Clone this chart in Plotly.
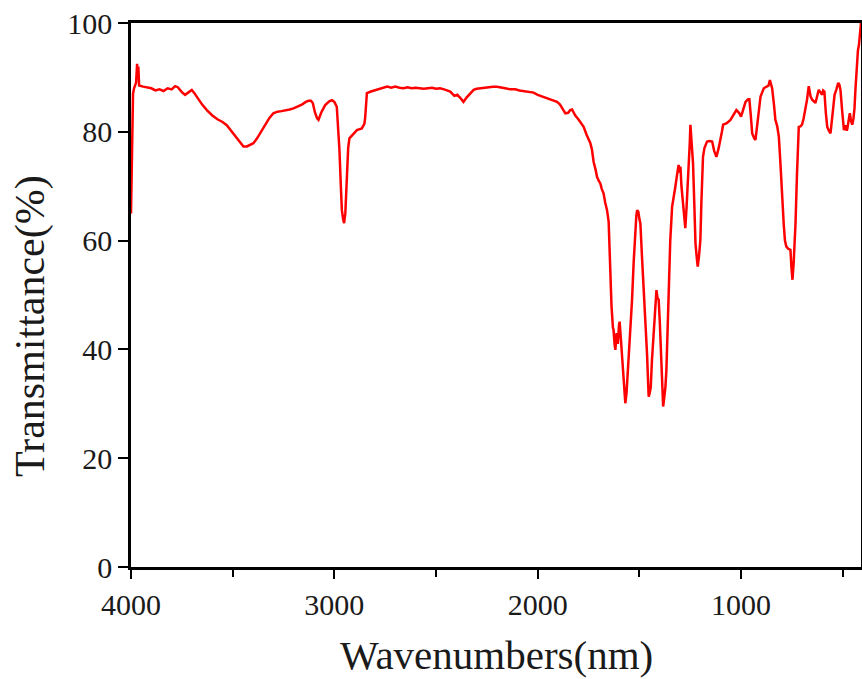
import plotly.graph_objects as go

wavenumber = [
    4000, 3997, 3995, 3993, 3990, 3985, 3975, 3970, 3967, 3964, 3960, 3940, 3920, 3900,
    3880, 3860, 3840, 3820, 3800, 3783, 3770, 3750, 3734, 3715, 3701, 3690, 3670, 3650,
    3627, 3600, 3575, 3550, 3529, 3510, 3490, 3470, 3447, 3430, 3410, 3398, 3380, 3360,
    3340, 3320, 3300, 3280, 3260, 3240, 3220, 3201, 3180, 3160, 3140, 3127, 3115, 3106,
    3095, 3085, 3078, 3065, 3045, 3025, 3012, 3000, 2988, 2980, 2975, 2968, 2963, 2957,
    2952, 2946, 2942, 2938, 2932, 2926, 2910, 2889, 2865, 2852, 2848, 2843, 2840, 2820,
    2800, 2780, 2758, 2740, 2720, 2700, 2680, 2660, 2640, 2620, 2600, 2580, 2560, 2540,
    2520, 2500, 2480, 2460, 2440, 2430, 2410, 2395, 2380, 2365, 2350, 2330, 2315, 2300,
    2280, 2260, 2240, 2220, 2200, 2180, 2160, 2135, 2110, 2090, 2070, 2050, 2020, 2000,
    1980, 1960, 1940, 1920, 1905, 1890, 1875, 1864, 1850, 1840, 1831, 1815, 1800, 1785,
    1774, 1760, 1750, 1741, 1733, 1725, 1715, 1708, 1700, 1692, 1685, 1676, 1668, 1659,
    1651, 1647, 1643, 1637, 1630, 1627, 1622, 1618, 1612, 1606, 1600, 1597, 1591, 1585,
    1578, 1572, 1569, 1563, 1558, 1553, 1545, 1536, 1528, 1520, 1515, 1511, 1505, 1500,
    1495, 1487, 1478, 1470, 1462, 1456, 1454, 1449, 1444, 1438, 1430, 1424, 1416, 1411,
    1405, 1400, 1397, 1392, 1387, 1383, 1378, 1372, 1367, 1362, 1356, 1348, 1339, 1330,
    1323, 1315, 1307, 1302, 1298, 1293, 1290, 1283, 1278, 1274, 1268, 1262, 1257, 1252,
    1249, 1246, 1240, 1236, 1230, 1224, 1218, 1213, 1207, 1200, 1195, 1187, 1180, 1167,
    1155, 1142, 1132, 1121, 1110, 1101, 1094, 1088, 1070, 1052, 1038, 1023, 1010, 1000,
    990, 978, 965, 959, 952, 945, 935, 929, 918, 910, 904, 888, 875, 865, 858, 847, 838,
    831, 822, 814, 806, 798, 790, 784, 777, 768, 757, 752, 747, 741, 736, 732, 725, 716,
    708, 700, 692, 683, 675, 667, 658, 650, 642, 634, 626, 618, 610, 601, 596, 590, 583,
    576, 568, 560, 552, 546, 540, 531, 522, 516, 511, 503, 494, 486, 480, 477, 471, 465,
    459, 453, 447, 442, 437, 432, 425, 420, 415, 410,
]

transmittance = [
    65, 72, 82, 78, 87, 88, 89, 92.5, 90, 92, 88.5, 88.3, 88.1, 88.0,
    87.6, 87.8, 87.5, 88.0, 87.8, 88.4, 88.2, 87.3, 86.8, 87.3, 87.7, 87.2, 86.0, 85.0,
    84.0, 83.0, 82.3, 81.8, 81.2, 80.3, 79.2, 78.3, 77.3, 77.3, 77.6, 77.9, 78.8, 80.0,
    81.3, 82.5, 83.4, 83.7, 83.8, 83.9, 84.1, 84.3, 84.6, 85.0, 85.5, 85.7, 85.7, 85.3,
    83.5, 82.5, 82.2, 83.5, 84.9, 85.6, 85.8, 85.5, 84.6, 80, 76.7, 70, 65.6, 64,
    63.2, 65, 69, 73.6, 77, 78.8, 79.5, 80.3, 80.6, 81.5, 82.8, 85, 87.1, 87.4,
    87.6, 87.8, 88.0, 88.3, 88.1, 88.3, 88.1, 88.0, 88.2, 88.0, 88.1, 88.0, 87.9, 88.0,
    88.1, 87.9, 88.0, 87.8, 87.6, 87.4, 86.6, 86.8, 86.2, 85.5, 86.3, 87.2, 87.7, 87.9,
    88.0, 88.2, 88.3, 88.3, 88.3, 88.2, 88.0, 87.8, 87.8, 87.6, 87.5, 87.4, 87.2, 86.8,
    86.5, 86.2, 85.9, 85.7, 85.5, 85.0, 84.0, 83.4, 83.5, 84.0, 84.1, 83.0, 82.3, 81.5,
    80.9, 79.5, 78.6, 77.9, 76.7, 74.5, 73, 71.7, 71.0, 70.5, 69.5, 68.7, 67, 65.6,
    63.5, 58, 53.4, 48, 44, 43.6, 41, 39.9, 43, 41, 44.5, 45.1, 42, 38.7,
    34, 30.5, 30.1, 32, 35, 37.5, 43, 49.1, 56, 62.6, 64.5, 65.6, 65.3, 64,
    63.2, 57, 51, 46, 39, 33, 31.3, 32, 33, 38, 42.3, 46, 50.9, 49.5,
    49.1, 45.5, 42.3, 36, 31, 29.5, 31, 33, 36.2, 43, 52.1, 60, 66.2, 68,
    69.9, 72, 73.9, 72.5, 73.6, 70, 68.7, 65, 63, 62.3, 66, 70, 72.5, 78,
    81.3, 80, 76.5, 74.2, 67, 59.5, 57, 55.2, 57, 60.1, 67, 75.4, 77, 78.2,
    78.3, 78.2, 76.5, 75.4, 77, 78.5, 80, 81.3, 81.6, 82.2, 83, 84, 83.5, 82.8,
    84, 85.5, 86, 86, 83, 79.7, 78.8, 78.5, 82, 85, 86.5, 88, 88.2, 88.5, 89.5, 88, 85,
    82.2, 81, 79.1, 74, 67.5, 63, 60, 58.9, 58.5, 58.3, 55, 52.8, 56, 60, 63.2, 72, 80.9,
    81, 81.3, 82.5, 84.3, 86, 88.4, 86.5, 85.9, 85.6, 85.3, 86.5, 87.7, 87.3, 86.8, 87.6, 87.4, 83.5,
    80.9, 80.2, 79.7, 82.5, 85, 86.8, 87.8, 89, 88.6, 87.7, 84, 80.3, 81.2, 80.2, 80.6, 82, 83.4,
    82, 81.3, 82.5, 84.3, 88, 92, 95, 96, 98.7, 100,
]

x_ticks = [4000, 3000, 2000, 1000]
y_ticks = [0, 20, 40, 60, 80, 100]
x_title = "Wavenumbers(nm)"
y_title = "Transmittance(%)"

font_family = "Liberation Serif"
text_color = "#1a1a1a"

fig = go.Figure()
fig.add_trace(go.Scatter(
    x=wavenumber, y=transmittance, mode="lines",
    line=dict(color="#ff0000", width=2.5),
    showlegend=False, cliponaxis=True,
))

fig.update_layout(
    template="none",
    width=862, height=679,
    margin=dict(l=131, r=1, t=23, b=112),
    paper_bgcolor="white", plot_bgcolor="white",
    font=dict(family=font_family, color=text_color),
)

fig.update_xaxes(
    range=[4000, 410],
    tickvals=x_ticks, ticktext=[str(v) for v in x_ticks],
    ticks="outside", ticklen=9, tickwidth=2, tickcolor="black",
    minor=dict(dtick=500, tick0=0, ticks="outside", ticklen=7, tickwidth=2, tickcolor="black"),
    showline=True, linecolor="black", linewidth=2.5, mirror=True,
    showgrid=False, zeroline=False, automargin=False, ticklabeloverflow="allow",
    tickfont=dict(family=font_family, size=30, color=text_color),
)
fig.update_yaxes(
    range=[0, 100],
    tickvals=y_ticks, ticktext=[str(v) for v in y_ticks],
    ticks="outside", ticklen=10, tickwidth=2, tickcolor="black",
    showline=True, linecolor="black", linewidth=2.5, mirror=True,
    showgrid=False, zeroline=False, automargin=False, ticklabeloverflow="allow",
    tickfont=dict(family=font_family, size=30, color=text_color),
)

fig.add_annotation(
    text=x_title, xref="paper", yref="paper", x=0.5, y=0,
    xanchor="center", yanchor="middle", yshift=-88, showarrow=False,
    font=dict(family=font_family, size=41, color=text_color),
)
fig.add_annotation(
    text=y_title, xref="paper", yref="paper", x=0, y=0.443,
    xanchor="center", yanchor="middle", xshift=-101, textangle=-90, showarrow=False,
    font=dict(family=font_family, size=42, color=text_color),
)

fig.write_html(
    "out.html",
    config={"displayModeBar": False},
    post_script="document.body.style.margin='0';document.body.style.overflow='hidden';",
)
